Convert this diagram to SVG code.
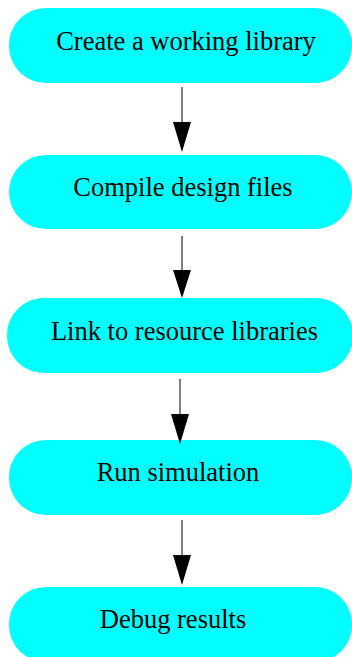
<svg xmlns="http://www.w3.org/2000/svg" width="352" height="657" viewBox="0 0 352 657">
<style>
.node rect{fill:#00ffff;stroke:none}
.node text{font-family:"Liberation Serif","Times New Roman",serif;font-size:26.5px;fill:#000;text-anchor:middle}
.edge line{stroke:#000;stroke-width:1}
.edge polygon{fill:#000;stroke:none}
</style>
<rect width="352" height="657" fill="#fff"/>
<g id="n1" class="node"><rect x="9" y="8" width="343" height="75" rx="37" ry="37"/><text x="186" y="50">Create a working library</text></g>
<g id="n2" class="node"><rect x="9" y="155" width="343" height="74" rx="37" ry="37"/><text x="183" y="196">Compile design files</text></g>
<g id="n3" class="node"><rect x="7" y="298" width="346" height="75" rx="37" ry="37"/><text x="184.5" y="340">Link to resource libraries</text></g>
<g id="n4" class="node"><rect x="9" y="440" width="343" height="75" rx="37" ry="37"/><text x="178" y="481">Run simulation</text></g>
<g id="n5" class="node"><rect x="9" y="587" width="343" height="75" rx="37" ry="37"/><text x="173" y="628">Debug results</text></g>
<g id="edges" class="edge">
<line x1="182" y1="87" x2="182" y2="123"/><polygon points="173,122 191,122 182,152"/>
<line x1="182" y1="236" x2="182" y2="272"/><polygon points="173,270 191,270 182,298"/>
<line x1="180" y1="379" x2="180" y2="416"/><polygon points="171,414 189,414 180,444"/>
<line x1="182" y1="520" x2="182" y2="557"/><polygon points="173,555 191,555 182,585"/>
</g>
</svg>
